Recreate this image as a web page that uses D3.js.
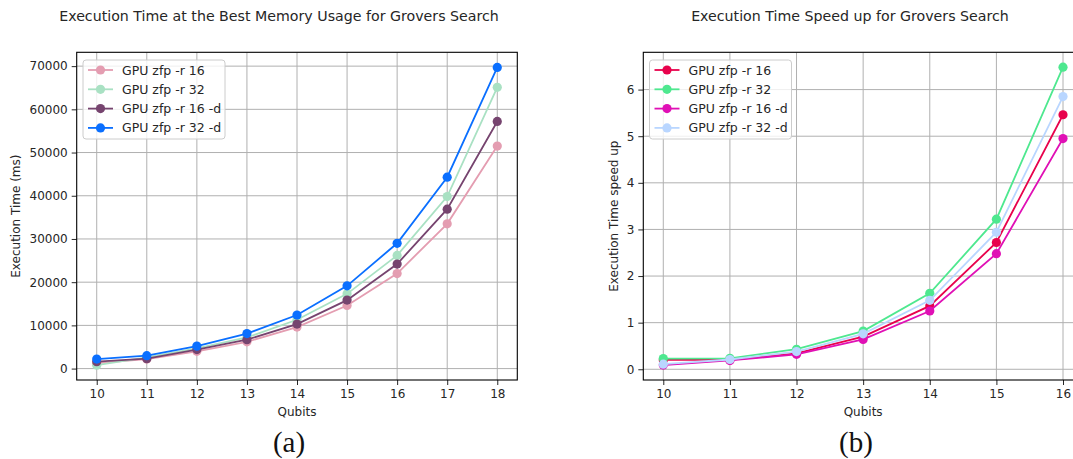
<!DOCTYPE html>
<html>
<head>
<meta charset="utf-8">
<script src="https://cdn.jsdelivr.net/npm/d3@7"></script>
<style>
  html, body { margin: 0; padding: 0; background: #fff; }
  svg { display: block; font-family: "DejaVu Sans", sans-serif; }
</style>
</head>
<body>
<svg id="fig" width="1073" height="459"></svg>
<script>
// Qubit counts on the x axis
const qubitsTime = [10, 11, 12, 13, 14, 15, 16, 17, 18];
const qubitsSpeed = [10, 11, 12, 13, 14, 15, 16];

// Series labels
const seriesNames = ["GPU zfp -r 16", "GPU zfp -r 32", "GPU zfp -r 16 -d", "GPU zfp -r 32 -d"];

// Execution time (ms) at the best memory usage
const timeR16  = [1250, 2200, 4000, 6200, 9600, 14600, 22000, 33500, 51500];
const timeR32  = [800, 2600, 4700, 7200, 11300, 17300, 26200, 39800, 65100];
const timeR16d = [1600, 2300, 4400, 6700, 10300, 15850, 24200, 36900, 57200];
const timeR32d = [2200, 3000, 5200, 8100, 12400, 19150, 29000, 44300, 69700];

// Execution time speed up
const speedR16  = [0.20, 0.20, 0.34, 0.70, 1.36, 2.72, 5.46];
const speedR32  = [0.23, 0.235, 0.43, 0.82, 1.63, 3.22, 6.48];
const speedR16d = [0.09, 0.19, 0.32, 0.64, 1.25, 2.48, 4.95];
const speedR32d = [0.11, 0.21, 0.38, 0.76, 1.48, 2.94, 5.85];

// Tick values
const timeTicks = [0, 10000, 20000, 30000, 40000, 50000, 60000, 70000];
const speedTicks = [0, 1, 2, 3, 4, 5, 6];

const timeColors = ["#e49db1", "#a9e1c3", "#76446f", "#0a6fff"];
const speedColors = ["#e8024c", "#4ee88f", "#e010b5", "#b9d6ff"];

const svg = d3.select("#fig");
const textColor = "#262626";

function drawPanel(opts) {
  const g = svg.append("g");
  const x = d3.scaleLinear().domain(opts.xDomain).range([opts.left, opts.right]);
  const y = d3.scaleLinear().domain(opts.yDomain).range([opts.bottom, opts.top]);

  // clip for plot content
  const clipId = "clip-" + opts.id;
  svg.append("defs").append("clipPath").attr("id", clipId)
    .append("rect").attr("x", opts.left).attr("y", opts.top)
    .attr("width", opts.right - opts.left).attr("height", opts.bottom - opts.top);

  // grid
  const grid = g.append("g").attr("clip-path", `url(#${clipId})`);
  grid.selectAll("line.gx").data(opts.xTicks).join("line")
    .attr("x1", d => x(d)).attr("x2", d => x(d))
    .attr("y1", opts.top).attr("y2", opts.bottom)
    .attr("stroke", "#b0b0b0").attr("stroke-width", 1);
  grid.selectAll("line.gy").data(opts.yTicks).join("line")
    .attr("x1", opts.left).attr("x2", opts.right)
    .attr("y1", d => y(d)).attr("y2", d => y(d))
    .attr("stroke", "#b0b0b0").attr("stroke-width", 1);

  // axes
  const xAxis = d3.axisBottom(x).tickValues(opts.xTicks).tickSize(5).tickPadding(4).tickFormat(d3.format("d"));
  const yAxis = d3.axisLeft(y).tickValues(opts.yTicks).tickSize(5).tickPadding(4).tickFormat(d3.format("d"));
  const gx = g.append("g").attr("transform", `translate(0,${opts.bottom})`).call(xAxis);
  const gy = g.append("g").attr("transform", `translate(${opts.left},0)`).call(yAxis);
  [gx, gy].forEach(a => {
    a.select(".domain").remove();
    a.selectAll(".tick line").attr("stroke", textColor).attr("stroke-width", 1);
    a.selectAll(".tick text").attr("fill", textColor).style("font-size", "12px")
      .style("font-family", "DejaVu Sans, sans-serif");
  });

  // series
  const plot = g.append("g").attr("clip-path", `url(#${clipId})`);
  const line = d3.line().x(d => x(d[0])).y(d => y(d[1]));
  opts.series.forEach((vals, i) => {
    const pts = opts.xs.map((q, j) => [q, vals[j]]);
    const sg = plot.append("g");
    sg.append("path").datum(pts).attr("d", line)
      .attr("fill", "none").attr("stroke", opts.colors[i]).attr("stroke-width", 1.8);
    sg.selectAll("circle").data(pts).join("circle")
      .attr("cx", d => x(d[0])).attr("cy", d => y(d[1])).attr("r", 4.6)
      .attr("fill", opts.colors[i]);
  });

  // spines
  g.append("rect").attr("x", opts.left).attr("y", opts.top)
    .attr("width", opts.right - opts.left).attr("height", opts.bottom - opts.top)
    .attr("fill", "none").attr("stroke", "#000").attr("stroke-width", 1.1);

  // legend
  const lg = g.append("g");
  lg.append("rect").attr("x", opts.legend.x).attr("y", opts.legend.y)
    .attr("width", opts.legend.w).attr("height", 79).attr("rx", 3)
    .attr("fill", "#fff").attr("fill-opacity", 0.8).attr("stroke", "#cccccc");
  seriesNames.forEach((name, i) => {
    const cy = opts.legend.y + 10 + i * 19.3;
    const lx = opts.legend.x + 5;
    lg.append("line").attr("x1", lx).attr("x2", lx + 25).attr("y1", cy).attr("y2", cy)
      .attr("stroke", opts.colors[i]).attr("stroke-width", 1.8);
    lg.append("circle").attr("cx", lx + 12.5).attr("cy", cy).attr("r", 4.6).attr("fill", opts.colors[i]);
    lg.append("text").attr("x", lx + 34).attr("y", cy).attr("dy", "0.36em")
      .attr("fill", textColor).style("font-size", "12.5px").text(name);
  });

  // titles and labels
  g.append("text").attr("x", opts.titleX).attr("y", 21).attr("text-anchor", "middle")
    .attr("fill", textColor).style("font-size", "14.2px").text(opts.title);
  g.append("text").attr("x", (opts.left + opts.xLabelRight) / 2).attr("y", 416).attr("text-anchor", "middle")
    .attr("fill", textColor).style("font-size", "12px").text("Qubits");
  g.append("text").attr("transform", `translate(${opts.yLabelX},${(opts.top + opts.bottom) / 2}) rotate(-90)`)
    .attr("text-anchor", "middle").attr("fill", textColor).style("font-size", "12px").text(opts.yLabel);
  g.append("text").attr("x", opts.capX).attr("y", 452).attr("text-anchor", "middle")
    .attr("fill", "#111").style("font-family", "Liberation Serif, serif").style("font-size", "29px")
    .text(opts.caption);
}

drawPanel({
  id: "time",
  xs: qubitsTime,
  series: [timeR16, timeR32, timeR16d, timeR32d],
  colors: timeColors,
  xDomain: [9.6, 18.4], yDomain: [-2640, 73200],
  left: 76.7, right: 517.3, top: 52.3, bottom: 380,
  xTicks: qubitsTime, yTicks: timeTicks,
  legend: { x: 83, y: 60, w: 142 },
  title: "Execution Time at the Best Memory Usage for Grovers Search", titleX: 279,
  yLabel: "Execution Time (ms)", yLabelX: 20,
  xLabelRight: 517.3,
  caption: "(a)", capX: 289
});

drawPanel({
  id: "speed",
  xs: qubitsSpeed,
  series: [speedR16, speedR32, speedR16d, speedR32d],
  colors: speedColors,
  xDomain: [9.7, 16.3], yDomain: [-0.23, 6.8],
  left: 643.3, right: 1083, top: 52.3, bottom: 380,
  xTicks: qubitsSpeed, yTicks: speedTicks,
  legend: { x: 649.5, y: 60, w: 142 },
  title: "Execution Time Speed up for Grovers Search", titleX: 850,
  yLabel: "Execution Time speed up", yLabelX: 618,
  xLabelRight: 1083,
  caption: "(b)", capX: 856
});
</script>
</body>
</html>
